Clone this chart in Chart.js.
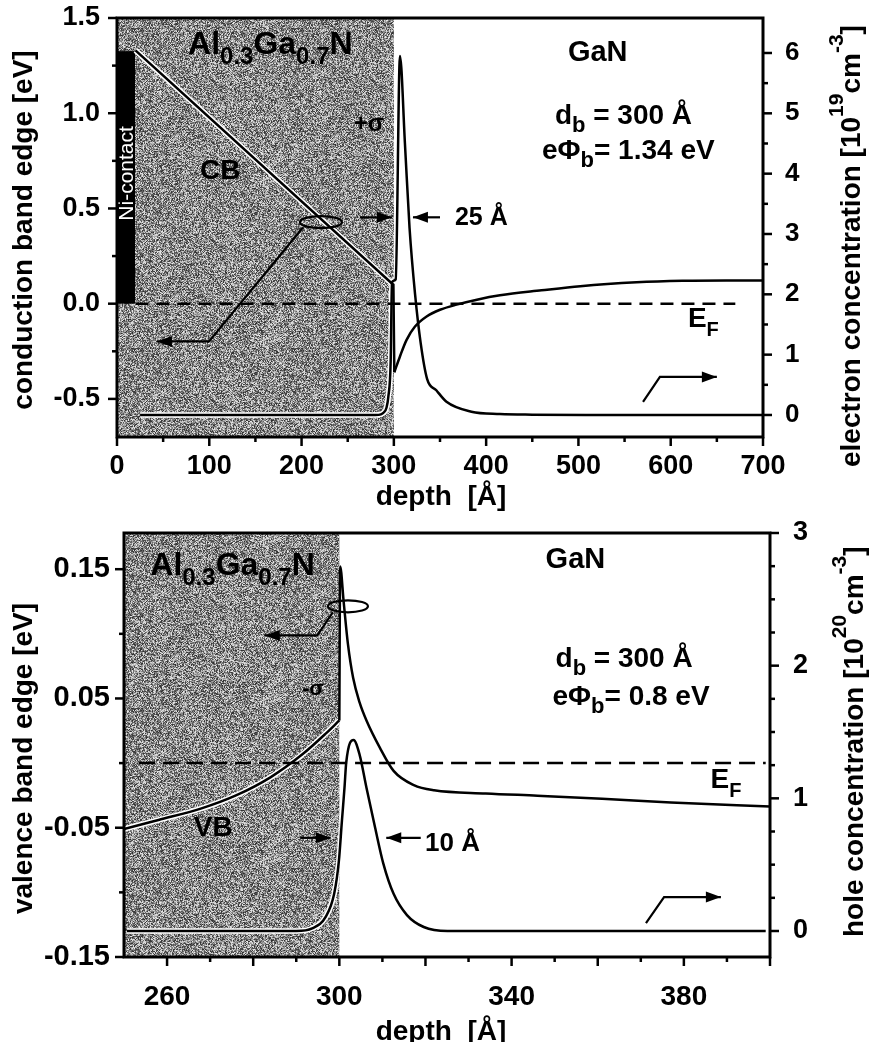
<!DOCTYPE html>
<html>
<head>
<meta charset="utf-8">
<script src="https://cdn.jsdelivr.net/npm/chart.js@4.4.0/dist/chart.umd.min.js"></script>
<style>
  html, body { margin: 0; padding: 0; background: #fff; }
  #wrap { position: relative; width: 871px; height: 1042px; }
  .panel { position: absolute; left: 0; width: 871px; }
  .panel canvas { display: block; }
  #panelTop { top: 0; height: 520px; }
  #panelBottom { top: 520px; height: 522px; }
</style>
</head>
<body>
<div id="wrap">
  <div class="panel" id="panelTop"><canvas id="chartTop" width="871" height="520"></canvas></div>
  <div class="panel" id="panelBottom"><canvas id="chartBottom" width="871" height="522"></canvas></div>
</div>
<script>
// ---- top panel: conduction band (eV) and electron density (1e19 cm^-3) ----
const cbBarrierDepth = [20, 297, 299.5, 300.5];
const cbBarrierEnergy = [1.33, 0.11, 0.10, -0.36];
const cbWellDepth = [300.5, 306.6, 313.8, 322.9, 335.5, 350, 368, 390, 415, 460, 502, 563, 613, 660, 700];
const cbWellEnergy = [-0.36, -0.277, -0.19, -0.12, -0.067, -0.032, -0.005, 0.021, 0.044, 0.07, 0.092, 0.112, 0.12, 0.122, 0.122];
const elecDepth = [25, 280, 286, 289, 292, 294, 296.5, 298, 302, 306.6, 312, 317, 323, 329, 336, 346, 357, 384, 415, 450, 520, 700];
const elecConc = [0, 0, 0.01, 0.04, 0.12, 0.3, 0.86, 2.2, 2.25, 5.95, 4.5, 3.1, 2.0, 1.2, 0.6, 0.41, 0.22, 0.055, 0.016, 0.005, 0, 0];
const efTopDepth = [20, 670];
const efTopEnergy = [0, 0];

const topDepthTicks = [0, 100, 200, 300, 400, 500, 600, 700];
const topDepthMinor = [50, 150, 250, 350, 450, 550, 650];
const topEnergyTicks = [-0.5, 0, 0.5, 1.0, 1.5];
const topEnergyMinor = [-0.25, 0.25, 0.75, 1.25];
const topConcTicks = [0, 1, 2, 3, 4, 5, 6];
const topConcMinor = [0.5, 1.5, 2.5, 3.5, 4.5, 5.5];

// ---- bottom panel: valence band (eV) and hole density (1e20 cm^-3) ----
const vbBarrierDepth = [250, 258, 268, 276, 284, 291.5, 296.9, 300];
const vbBarrierEnergy = [-0.051, -0.044, -0.035, -0.025, -0.011, 0.007, 0.023, 0.033];
const vbWellDepth = [300, 300.2, 301, 302, 303.2, 304.7, 306.3, 309.4, 312.6, 317.3, 322, 334, 346, 361, 377, 400];
const vbWellEnergy = [0.033, 0.152, 0.125, 0.092, 0.066, 0.047, 0.033, 0.012, -0.006, -0.017, -0.021, -0.0235, -0.0252, -0.0275, -0.0305, -0.0335];
const holeDepth = [250.7, 290, 293.7, 296.9, 298.8, 299.9, 300.6, 301.2, 301.6, 303.3, 304.7, 306.3, 308.3, 310.2, 312.6, 315.7, 319.6, 325.1, 399];
const holeConc = [0, 0, 0.02, 0.11, 0.28, 0.53, 0.83, 1.08, 1.27, 1.44, 1.33, 1.08, 0.78, 0.51, 0.28, 0.12, 0.03, 0, 0];
const efBotDepth = [253.5, 399];
const efBotEnergy = [0, 0];

const botDepthTicks = [260, 300, 340, 380];
const botDepthMajor = [260, 280, 300, 320, 340, 360, 380, 400];
const botDepthMinor = [270, 290, 310, 330, 350, 370, 390];
const botEnergyTicks = [-0.15, -0.05, 0.05, 0.15];
const botEnergyMinor = [-0.1, 0, 0.1];
const botConcTicks = [0, 1, 2, 3];
const botConcMinor = [0.25, 0.5, 0.75, 1.25, 1.5, 1.75, 2.25, 2.5, 2.75];

const FONT = '"Liberation Sans", Arial, Helvetica, sans-serif';
Chart.defaults.font.family = FONT;
Chart.defaults.color = '#000';

const pairs = (xs, ys) => xs.map((x, i) => ({ x: x, y: ys[i] }));

function curve(xs, ys, axis, smooth, halo, dash) {
    return {
        data: pairs(xs, ys),
        yAxisID: axis,
        borderColor: '#000',
        borderWidth: 2.5,
        borderDash: dash || [],
        pointRadius: 0,
        fill: false,
        tension: 0,
        cubicInterpolationMode: smooth ? 'monotone' : 'default',
        halo: halo
    };
}

// stippled grey used for the AlGaN barrier (deterministic hash texture)
const stipple = (() => {
    const n = 160;
    const c = document.createElement('canvas');
    c.width = c.height = n;
    const g = c.getContext('2d');
    const img = g.createImageData(n, n);
    for (let j = 0; j < n; j++) {
        for (let i = 0; i < n; i++) {
            const h = Math.abs(Math.sin(i * 12.9898 + j * 78.233) * 43758.5453) % 1;
            const v = 45 + h * 190;
            const k = (j * n + i) * 4;
            img.data[k] = img.data[k + 1] = img.data[k + 2] = v;
            img.data[k + 3] = 255;
        }
    }
    g.putImageData(img, 0, 0);
    return c;
})();

// text made of pieces: [text, size, dy]
function drawRich(ctx, x, y, parts) {
    let cx = x;
    parts.forEach(([t, size, dy, weight]) => {
        ctx.font = `${weight || 'bold'} ${size}px ${FONT}`;
        ctx.fillText(t, cx, y + (dy || 0));
        cx += ctx.measureText(t).width;
    });
    return cx - x;
}

function richWidth(ctx, parts) {
    let w = 0;
    parts.forEach(([t, size, dy, weight]) => {
        ctx.font = `${weight || 'bold'} ${size}px ${FONT}`;
        w += ctx.measureText(t).width;
    });
    return w;
}

function tracePath(ctx, pts, smooth) {
    ctx.beginPath();
    pts.forEach((p, i) => {
        if (i === 0) ctx.moveTo(p.x, p.y);
        else if (smooth && pts[i - 1].cp2x !== undefined) {
            const q = pts[i - 1];
            ctx.bezierCurveTo(q.cp2x, q.cp2y, p.cp1x, p.cp1y, p.x, p.y);
        } else ctx.lineTo(p.x, p.y);
    });
    ctx.stroke();
}

function arrowPath(ctx, pts) {
    ctx.beginPath();
    pts.forEach((p, i) => i ? ctx.lineTo(p[0], p[1]) : ctx.moveTo(p[0], p[1]));
    ctx.stroke();
    const [x1, y1] = pts[pts.length - 1];
    const [x0, y0] = pts[pts.length - 2];
    const a = Math.atan2(y1 - y0, x1 - x0);
    const L = 15, W = 5.5;
    ctx.beginPath();
    ctx.moveTo(x1, y1);
    ctx.lineTo(x1 - L * Math.cos(a) + W * Math.sin(a), y1 - L * Math.sin(a) - W * Math.cos(a));
    ctx.lineTo(x1 - L * Math.cos(a) - W * Math.sin(a), y1 - L * Math.sin(a) + W * Math.cos(a));
    ctx.closePath();
    ctx.fill();
}

function tickMarks(ctx, scale, values, len, side, a) {
    values.forEach(v => {
        const p = scale.getPixelForValue(v);
        ctx.beginPath();
        if (side === 'bottom') { ctx.moveTo(p, a.bottom); ctx.lineTo(p, a.bottom + len); }
        else if (side === 'left') { ctx.moveTo(a.left, p); ctx.lineTo(a.left - len, p); }
        else { ctx.moveTo(a.right, p); ctx.lineTo(a.right + len, p); }
        ctx.stroke();
    });
}

function decorPlugin(cfg) {
    return {
        id: 'decor',
        beforeDatasetsDraw(chart) {
            const { ctx, chartArea: a, scales } = chart;
            const x0 = scales.x.getPixelForValue(cfg.shade[0]);
            const x1 = scales.x.getPixelForValue(cfg.shade[1]);
            ctx.save();
            ctx.fillStyle = ctx.createPattern(stipple, 'repeat');
            ctx.fillRect(x0, a.top, x1 - x0, a.bottom - a.top);
            if (cfg.contact) {
                const c = cfg.contact;
                const l = scales.x.getPixelForValue(c.x0), r = scales.x.getPixelForValue(c.x1);
                const t = scales.y.getPixelForValue(c.y1), b = scales.y.getPixelForValue(c.y0);
                ctx.fillStyle = '#000';
                ctx.fillRect(l, t, r - l, b - t);
                ctx.save();
                ctx.translate((l + r) / 2 + 7, (t + b) / 2 - 4);
                ctx.rotate(-Math.PI / 2);
                ctx.fillStyle = '#fff';
                ctx.textAlign = 'center';
                ctx.font = `21px ${FONT}`;
                ctx.fillText(c.label, 0, 0);
                ctx.restore();
            }
            // white rim around the curves inside the barrier
            ctx.beginPath();
            ctx.rect(x0, a.top, x1 - x0, a.bottom - a.top);
            ctx.clip();
            ctx.strokeStyle = '#fff';
            ctx.lineJoin = 'round';
            chart.data.datasets.forEach((ds, i) => {
                if (!ds.halo) return;
                ctx.lineWidth = ds.borderWidth + 3;
                tracePath(ctx, chart.getDatasetMeta(i).data, ds.cubicInterpolationMode === 'monotone');
            });
            ctx.restore();
        },
        afterDraw(chart) {
            const { ctx, chartArea: a, scales } = chart;
            ctx.save();
            ctx.strokeStyle = '#000';
            ctx.fillStyle = '#000';
            ctx.lineWidth = 3;
            ctx.strokeRect(a.left, a.top, a.right - a.left, a.bottom - a.top);

            ctx.lineWidth = 2.5;
            cfg.ticks.forEach(t => {
                tickMarks(ctx, scales[t.axis], t.major, 9, t.side, a);
                tickMarks(ctx, scales[t.axis], t.minor, 5, t.side, a);
            });

            const px = v => scales.x.getPixelForValue(v);
            const py = (v, axis) => scales[axis || 'y'].getPixelForValue(v);

            ctx.textBaseline = 'alphabetic';
            ctx.textAlign = 'left';
            cfg.texts.forEach(t => drawRich(ctx, px(t.x), py(t.y), t.parts));

            ctx.lineWidth = 2.2;
            ctx.lineJoin = 'miter';
            cfg.arrows.forEach(ar => arrowPath(ctx, ar.pts.map(p => [px(p[0]), py(p[1], ar.axis)])));

            cfg.ellipses.forEach(e => {
                ctx.beginPath();
                ctx.ellipse(px(e.x), py(e.y), e.rx, e.ry, 0, 0, Math.PI * 2);
                ctx.stroke();
            });

            // axis titles
            const T = cfg.titles;
            let w = richWidth(ctx, T.left.parts);
            ctx.save();
            ctx.translate(T.left.x, T.left.cy);
            ctx.rotate(-Math.PI / 2);
            drawRich(ctx, -w / 2, 0, T.left.parts);
            ctx.restore();

            ctx.save();
            ctx.translate(T.right.x, T.right.y0);
            ctx.rotate(-Math.PI / 2);
            drawRich(ctx, 0, 0, T.right.parts);
            ctx.restore();

            w = richWidth(ctx, T.bottom.parts);
            drawRich(ctx, T.bottom.cx - w / 2, T.bottom.y, T.bottom.parts);
            ctx.restore();
        }
    };
}

function linAxis(opts) {
    return {
        type: 'linear',
        position: opts.position,
        min: opts.min,
        max: opts.max,
        grid: { display: false, drawTicks: false },
        border: { display: false },
        ticks: {
            padding: opts.padding,
            autoSkip: false,
            maxRotation: 0,
            color: '#000',
            font: { size: opts.fontSize, weight: 'bold' },
            callback: opts.format
        },
        afterBuildTicks: s => { s.ticks = opts.ticks.map(v => ({ value: v })); },
        afterFit: s => {
            if (opts.position === 'bottom') { s.height = opts.box; s.paddingLeft = 0; s.paddingRight = 0; }
            else { s.width = opts.box; s.paddingTop = 0; s.paddingBottom = 0; }
        }
    };
}

const alGaN = [['Al', 32, 0], ['0.3', 24, 10], ['Ga', 32, 0], ['0.7', 24, 10], ['N', 32, 0]];
const depthTitle = [['depth  [\u00c5]', 28, 0]];

const topDecor = {
    shade: [0, 300],
    contact: { x0: 0, x1: 19.5, y0: 0, y1: 1.326, label: 'Ni-contact' },
    ticks: [
        { axis: 'x', side: 'bottom', major: topDepthTicks, minor: topDepthMinor },
        { axis: 'y', side: 'left', major: topEnergyTicks, minor: topEnergyMinor },
        { axis: 'y2', side: 'right', major: topConcTicks, minor: topConcMinor }
    ],
    texts: [
        { x: 77, y: 1.31, parts: alGaN },
        { x: 488.6, y: 1.273, parts: [['GaN', 29, 0]] },
        { x: 474.5, y: 0.942, parts: [['d', 28, 0], ['b', 22, 8], [' = 300 \u00c5', 28, 0]] },
        { x: 460.5, y: 0.758, parts: [['e\u03a6', 28, 0], ['b', 22, 8], ['= 1.34 eV', 28, 0]] },
        { x: 256.5, y: 0.905, parts: [['+\u03c3', 24, 0]] },
        { x: 89.9, y: 0.653, parts: [['CB', 28, 0]] },
        { x: 618.6, y: -0.125, parts: [['E', 28, 0], ['F', 20, 9]] },
        { x: 366.2, y: 0.411, parts: [['25 \u00c5', 25, 0]] }
    ],
    arrows: [
        { pts: [[263.3, 0.4535], [297.9, 0.4535]] },
        { pts: [[350, 0.4535], [320.7, 0.4535]] },
        { pts: [[201.5, 0.40], [99.7, -0.198], [43.3, -0.198]] },
        { axis: 'y2', pts: [[570, 0.216], [588.3, 0.63], [650, 0.63]] }
    ],
    ellipses: [{ x: 221, y: 0.428, rx: 21, ry: 6 }],
    titles: {
        left: { x: 32, cy: 230, parts: [['conduction band edge [eV]', 28, 0]] },
        right: { x: 860, y0: 467, parts: [['electron concentration', 28, 0], [' ', 28, 0], ['[10', 28, 0], ['19', 21, -17], ['cm', 28, 0], ['-3', 21, -17], [']', 28, 0]] },
        bottom: { cx: 441, y: 505, parts: depthTitle }
    }
};

const botDecor = {
    shade: [250, 300],
    ticks: [
        { axis: 'x', side: 'bottom', major: botDepthMajor, minor: botDepthMinor },
        { axis: 'y', side: 'left', major: botEnergyTicks, minor: botEnergyMinor },
        { axis: 'y2', side: 'right', major: botConcTicks, minor: botConcMinor }
    ],
    texts: [
        { x: 256.1, y: 0.1453, parts: alGaN },
        { x: 347.9, y: 0.1508, parts: [['GaN', 29, 0]] },
        { x: 350.2, y: 0.074, parts: [['d', 28, 0], ['b', 22, 8], [' = 300 \u00c5', 28, 0]] },
        { x: 349.5, y: 0.0446, parts: [['e\u03a6', 28, 0], ['b', 22, 8], ['= 0.8 eV', 28, 0]] },
        { x: 291.4, y: 0.053, parts: [['-\u03c3', 21, 0]] },
        { x: 266.2, y: -0.0562, parts: [['VB', 28, 0]] },
        { x: 386.2, y: -0.019, parts: [['E', 28, 0], ['F', 20, 9]] },
        { x: 319.9, y: -0.0678, parts: [['10 \u00c5', 26, 0]] }
    ],
    arrows: [
        { pts: [[290.9, -0.0578], [298, -0.0578]] },
        { pts: [[318.9, -0.0578], [310.9, -0.0578]] },
        { pts: [[298.5, 0.1167], [294.9, 0.0988], [282.7, 0.0988]] },
        { axis: 'y2', pts: [[371.2, 0.06], [375.4, 0.256], [388.6, 0.256]] }
    ],
    ellipses: [{ x: 302, y: 0.1213, rx: 20, ry: 6 }],
    titles: {
        left: { x: 32, cy: 238.5, parts: [['valence band edge [eV]', 28, 0]] },
        right: { x: 863, y0: 417, parts: [['hole concentration', 28, 0], [' ', 28, 0], ['[10', 28, 0], ['20', 21, -17], ['cm', 28, 0], ['-3', 21, -17], [']', 28, 0]] },
        bottom: { cx: 441, y: 520, parts: depthTitle }
    }
};

new Chart(document.getElementById('chartTop'), {
    type: 'line',
    data: {
        datasets: [
            curve(cbBarrierDepth, cbBarrierEnergy, 'y', false, true),
            curve(cbWellDepth, cbWellEnergy, 'y', true, false),
            curve(elecDepth, elecConc, 'y2', true, true),
            curve(efTopDepth, efTopEnergy, 'y', false, false, [13, 8])
        ]
    },
    options: {
        responsive: false,
        animation: false,
        layout: { padding: { top: 18, left: 0, right: 0, bottom: 0 } },
        plugins: { legend: { display: false }, tooltip: { enabled: false } },
        scales: {
            x: linAxis({ position: 'bottom', min: 0, max: 700, ticks: topDepthTicks, padding: 13, fontSize: 27, box: 83, format: v => String(v) }),
            y: linAxis({ position: 'left', min: -0.7, max: 1.5, ticks: topEnergyTicks, padding: 17, fontSize: 27, box: 117, format: v => Number(v).toFixed(1) }),
            y2: linAxis({ position: 'right', min: -0.365, max: 6.58, ticks: topConcTicks, padding: 22, fontSize: 26, box: 108, format: v => String(v) })
        }
    },
    plugins: [decorPlugin(topDecor)]
});

new Chart(document.getElementById('chartBottom'), {
    type: 'line',
    data: {
        datasets: [
            curve(vbBarrierDepth, vbBarrierEnergy, 'y', true, true),
            curve(vbWellDepth, vbWellEnergy, 'y', true, false),
            curve(holeDepth, holeConc, 'y2', true, true),
            curve(efBotDepth, efBotEnergy, 'y', false, false, [16, 8])
        ]
    },
    options: {
        responsive: false,
        animation: false,
        layout: { padding: { top: 13, left: 0, right: 0, bottom: 0 } },
        plugins: { legend: { display: false }, tooltip: { enabled: false } },
        scales: {
            x: linAxis({ position: 'bottom', min: 250, max: 400, ticks: botDepthTicks, padding: 23, fontSize: 28, box: 85, format: v => String(v) }),
            y: linAxis({ position: 'left', min: -0.15, max: 0.178, ticks: botEnergyTicks, padding: 14, fontSize: 29, box: 124, format: v => Number(v).toFixed(2) }),
            y2: linAxis({ position: 'right', min: -0.196, max: 3.0, ticks: botConcTicks, padding: 23, fontSize: 27, box: 101, format: v => String(v) })
        }
    },
    plugins: [decorPlugin(botDecor)]
});
</script>
</body>
</html>
